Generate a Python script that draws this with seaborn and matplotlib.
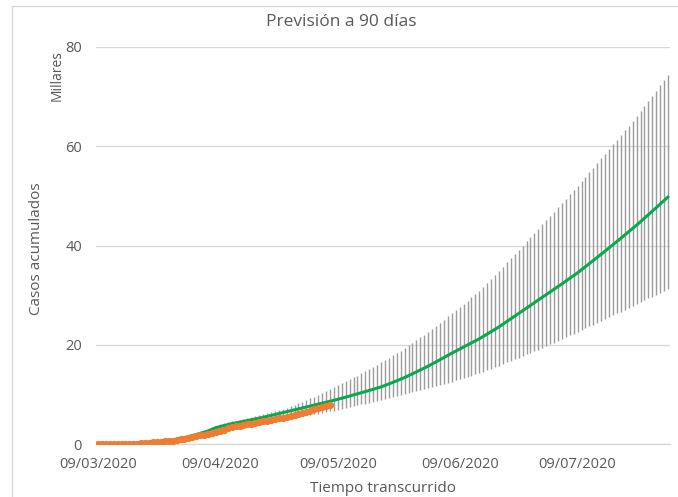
import pandas as pd
import matplotlib
matplotlib.use("Agg")
import matplotlib.pyplot as plt
import matplotlib.dates as mdates
from matplotlib.patches import Rectangle
import seaborn as sns

# First day of the series
start_date = "2020-03-09"

# Observed cumulative cases (thousands), one value per day
observed = [
    0.00, 0.01, 0.02, 0.03, 0.04, 0.05, 0.06, 0.07, 0.08, 0.09,
    0.10, 0.14, 0.19, 0.25, 0.31, 0.37, 0.44, 0.52, 0.61, 0.70,
    0.80, 0.94, 1.09, 1.24, 1.40, 1.56, 1.72, 1.90, 2.06, 2.23,
    2.40, 2.65, 2.90, 3.15, 3.40, 3.54, 3.68, 3.82, 3.96, 4.10,
    4.25, 4.40, 4.55, 4.70, 4.86, 5.02, 5.18, 5.34, 5.50, 5.66,
    5.82, 6.05, 6.28, 6.51, 6.74, 6.97, 7.21, 7.45, 7.68, 7.90,
]

# Fitted / forecast cumulative cases (thousands), one value per day
forecast = [
    0.00, 0.01, 0.02, 0.03, 0.04, 0.05, 0.07, 0.09, 0.11, 0.13,
    0.15, 0.19, 0.24, 0.29, 0.34, 0.40, 0.49, 0.59, 0.69, 0.79,
    0.90, 1.09, 1.29, 1.49, 1.70, 1.92, 2.15, 2.38, 2.62, 2.95,
    3.30, 3.50, 3.70, 3.90, 4.10, 4.25, 4.40, 4.56, 4.72, 4.88,
    5.04, 5.20, 5.38, 5.56, 5.74, 5.93, 6.12, 6.31, 6.50, 6.70,
    6.90, 7.08, 7.26, 7.45, 7.64, 7.83, 8.02, 8.21, 8.40, 8.60,
    8.80, 9.00, 9.22, 9.44, 9.66, 9.88, 10.10, 10.33, 10.56, 10.79,
    11.02, 11.26, 11.50, 11.80, 12.11, 12.42, 12.74, 13.06, 13.40, 13.77,
    14.15, 14.53, 14.92, 15.31, 15.70, 16.12, 16.55, 16.98, 17.42, 17.86,
    18.30, 18.71, 19.12, 19.53, 19.95, 20.37, 20.79, 21.20, 21.68, 22.16,
    22.64, 23.12, 23.60, 24.14, 24.68, 25.22, 25.76, 26.30, 26.84, 27.38,
    27.92, 28.46, 29.00, 29.54, 30.08, 30.62, 31.16, 31.70, 32.26, 32.82,
    33.38, 33.94, 34.50, 35.12, 35.74, 36.36, 36.98, 37.60, 38.24, 38.88,
    39.52, 40.16, 40.80, 41.46, 42.12, 42.78, 43.44, 44.10, 44.80, 45.50,
    46.20, 46.90, 47.62, 48.34, 49.06, 49.80,
]

# Day index where the uncertainty range begins
band_first_day = 28

# Upper and lower bound of the forecast range, one value per day
upper = [
    3.04, 3.36, 3.68, 4.00, 4.18, 4.36, 4.54, 4.72, 4.90, 5.08,
    5.26, 5.44, 5.62, 5.80, 6.00, 6.20, 6.40, 6.60, 6.80, 7.08,
    7.35, 7.63, 7.90, 8.22, 8.53, 8.85, 9.17, 9.48, 9.80, 10.22,
    10.64, 11.06, 11.48, 11.90, 12.28, 12.66, 13.04, 13.42, 13.80, 14.24,
    14.68, 15.12, 15.56, 16.00, 16.46, 16.92, 17.38, 17.84, 18.30, 18.82,
    19.34, 19.86, 20.38, 20.90, 21.48, 22.06, 22.64, 23.22, 23.80, 24.44,
    25.08, 25.72, 26.36, 27.00, 27.63, 28.27, 28.90, 29.53, 30.17, 30.80,
    31.62, 32.44, 33.26, 34.08, 34.90, 35.74, 36.58, 37.42, 38.26, 39.10,
    39.96, 40.82, 41.68, 42.54, 43.40, 44.26, 45.12, 45.98, 46.84, 47.70,
    48.56, 49.42, 50.28, 51.14, 52.00, 52.92, 53.84, 54.76, 55.68, 56.60,
    57.54, 58.48, 59.42, 60.36, 61.30, 62.26, 63.22, 64.18, 65.14, 66.10,
    67.10, 68.10, 69.10, 70.10, 71.18, 72.25, 73.33, 74.40,
]
lower = [
    2.58, 2.72, 2.86, 3.00, 3.12, 3.24, 3.36, 3.48, 3.60, 3.74,
    3.88, 4.02, 4.16, 4.30, 4.42, 4.54, 4.66, 4.78, 4.90, 5.03,
    5.15, 5.28, 5.40, 5.52, 5.63, 5.75, 5.87, 5.98, 6.10, 6.26,
    6.42, 6.58, 6.74, 6.90, 7.08, 7.26, 7.44, 7.62, 7.80, 7.98,
    8.16, 8.34, 8.52, 8.70, 8.88, 9.06, 9.24, 9.42, 9.60, 9.80,
    10.00, 10.20, 10.40, 10.60, 10.80, 11.00, 11.20, 11.40, 11.60, 11.84,
    12.08, 12.32, 12.56, 12.80, 13.05, 13.30, 13.55, 13.80, 14.05, 14.30,
    14.60, 14.90, 15.20, 15.50, 15.80, 16.12, 16.44, 16.76, 17.08, 17.40,
    17.72, 18.04, 18.36, 18.68, 19.00, 19.36, 19.72, 20.08, 20.44, 20.80,
    21.16, 21.52, 21.88, 22.24, 22.60, 22.96, 23.32, 23.68, 24.04, 24.40,
    24.78, 25.16, 25.54, 25.92, 26.30, 26.68, 27.06, 27.44, 27.82, 28.20,
    28.58, 28.95, 29.33, 29.70, 30.08, 30.45, 30.83, 31.20,
]

x_tick_labels = ["09/03/2020", "09/04/2020", "09/05/2020", "09/06/2020", "09/07/2020"]
y_ticks = [0, 20, 40, 60, 80]

title = "Previsión a 90 días"
x_label = "Tiempo transcurrido"
y_label = "Casos acumulados"
unit_label = "Millares"

# ---- tables ----
dates = pd.date_range(start_date, periods=len(forecast), freq="D")
obs_df = pd.DataFrame({"fecha": dates[:len(observed)], "casos": observed})
fc_df = pd.DataFrame({"fecha": dates, "casos": forecast})
band_dates = dates[band_first_day:band_first_day + len(upper)]

# ---- style ----
sns.set_theme(style="white")
plt.rcParams["font.family"] = ["Open Sans", "DejaVu Sans"]
text_color = "#595959"
grid_color = "#d9d9d9"

W, H = 678, 497
fig = plt.figure(figsize=(W / 100, H / 100), dpi=100)
fig.patch.set_facecolor("white")

left_px, right_px, top_px, bottom_px = 96, 670, 47, 444
ax = fig.add_axes([left_px / W, 1 - bottom_px / H,
                   (right_px - left_px) / W, (bottom_px - top_px) / H])

# forecast range as one vertical line per day
ax.vlines(mdates.date2num(band_dates), lower, upper,
          color="#9c9c9c", lw=1.0, zorder=2)

sns.lineplot(data=fc_df, x="fecha", y="casos", color="#0aa84f",
             lw=2.2, ax=ax, zorder=3)
sns.lineplot(data=obs_df, x="fecha", y="casos", color="#ED7D31",
             lw=1.5, marker="o", markersize=5.2, markeredgewidth=0,
             ax=ax, zorder=4)

ax.set_xlim(mdates.date2num(dates[0]) - 0.5, mdates.date2num(dates[-1]) + 0.5)
ax.set_ylim(0, 80)

tick_dates = pd.to_datetime(x_tick_labels, format="%d/%m/%Y")
ax.set_xticks(mdates.date2num(tick_dates))
ax.set_xticklabels(x_tick_labels)
ax.set_yticks(y_ticks)
ax.set_yticklabels([str(v) for v in y_ticks])

ax.set_xlabel("")
ax.set_ylabel("")

for side in ["top", "right", "left"]:
    ax.spines[side].set_visible(False)
ax.spines["bottom"].set_color(grid_color)
ax.spines["bottom"].set_linewidth(1.0)
ax.spines["bottom"].set_zorder(1)

ax.yaxis.grid(True, color=grid_color, lw=1.0, zorder=0)
ax.xaxis.grid(False)
ax.set_axisbelow(True)

ax.tick_params(axis="x", direction="out", length=5, width=1.0,
               color=grid_color, labelcolor=text_color, labelsize=10.5, pad=4)
ax.tick_params(axis="y", length=0, labelcolor=text_color, labelsize=10.5, pad=10)

# titles and axis captions
fig.text(341 / W, 1 - 22 / H, title, ha="center", va="center",
         fontsize=12.5, color=text_color)
fig.text(383 / W, 1 - 488 / H, x_label, ha="center", va="center",
         fontsize=11, color=text_color)
fig.text(37 / W, 1 - 249 / H, y_label, ha="center", va="center",
         rotation=90, fontsize=11, color=text_color)
fig.text(57 / W, 1 - 76 / H, unit_label, ha="center", va="center",
         rotation=90, fontsize=10, color=text_color)

# chart frame
fig.add_artist(Rectangle((12 / W, -0.05), 1.0, 1 - 6 / H + 0.05,
                         transform=fig.transFigure, fill=False,
                         ec=grid_color, lw=1.0))

fig.savefig("out.png", dpi=100, facecolor="white")
